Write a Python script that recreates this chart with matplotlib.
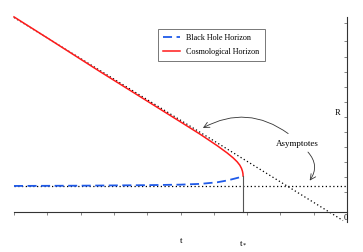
import matplotlib
matplotlib.use("Agg")
import matplotlib.pyplot as plt

# curves (t on the horizontal axis, R on the vertical)
cosmo_t = [-10.0, -9.01, -7.42, -5.92, -4.92, -4.4, -3.90, -3.6, -3.42,
           -3.30, -3.22, -3.17, -3.14, -3.125, -3.12]
cosmo_r = [7.50, 6.70, 5.40, 4.20, 3.40, 2.98, 2.55, 2.27, 2.08,
           1.93, 1.80, 1.68, 1.57, 1.47, 1.38]
bh_t = [-10.0, -8.0, -6.0, -5.0, -4.4, -3.9, -3.6, -3.35, -3.2, -3.15, -3.12]
bh_r = [1.00, 1.01, 1.03, 1.05, 1.08, 1.14, 1.21, 1.29, 1.34, 1.365, 1.38]

# asymptotes
diag_t = [-10.0, -0.12]
diag_r = [7.48, -0.33]
flat_t = [-10.0, 0.0]
flat_r = [1.0, 1.0]

t_star = -3.12
r_star = 1.38

x_ticks = [-10, -9, -8, -7, -6, -5, -4, -3, -2, -1, 0]
y_ticks = [0.77, 1.35, 1.92, 2.50, 3.08, 3.65, 4.23, 4.81, 5.38, 5.96, 6.58, 7.27]

plt.rcParams["font.family"] = ["Liberation Serif", "DejaVu Serif"]

fig = plt.figure(figsize=(3.63, 2.52), dpi=100)
ax = fig.add_axes([0, 0, 1, 1])
ax.set_xlim(-10.42, 0.48)
ax.set_ylim(-1.54, 8.15)

ax.plot(diag_t, diag_r, color="black", linestyle=(0, (1, 2)), linewidth=0.9)
ax.plot(flat_t, flat_r, color="black", linestyle=(0, (1, 2)), linewidth=0.9)
ax.plot(bh_t, bh_r, color="#1f5ae8", linestyle=(0, (5, 2.5)), linewidth=1.3,
        label="Black Hole Horizon")
ax.plot(cosmo_t, cosmo_r, color="#ff1a1a", linewidth=1.1,
        label="Cosmological Horizon")
ax.plot([t_star, t_star], [0, r_star], color="#555555", linewidth=0.8)

# axes: bottom at R=0, vertical axis on the right at t=0
for s in ["top", "left"]:
    ax.spines[s].set_visible(False)
ax.spines["bottom"].set_position(("data", 0))
ax.spines["bottom"].set_bounds(-10, 0)
ax.spines["right"].set_position(("data", 0))
ax.spines["right"].set_bounds(-0.38, 7.5)
for s in ["bottom", "right"]:
    ax.spines[s].set_color("#333333")
    ax.spines[s].set_linewidth(0.8)
ax.yaxis.tick_right()
ax.set_xticks(x_ticks)
ax.set_yticks(y_ticks)
ax.tick_params(axis="x", direction="out", length=2, width=0.5,
               colors="#555555", labelbottom=False)
ax.tick_params(axis="y", direction="in", length=2, width=0.5,
               colors="#555555", labelright=False)

ax.text(-4.98, -1.12, "t", fontsize=6.5, ha="center", va="center")
ax.text(t_star, -1.18, "t$_*$", fontsize=6.5, ha="center", va="center")
ax.text(-0.27, 3.8, "R", fontsize=6, ha="center", va="center")
ax.text(-0.05, -0.25, "0", fontsize=6, ha="center", va="center")

ax.text(-1.5, 2.6, "Asymptotes", fontsize=6.5, ha="center", va="center")
ax.annotate("", xy=(-4.4, 3.18), xytext=(-1.7, 2.95),
            arrowprops=dict(arrowstyle="->", color="#333333", lw=0.6,
                            connectionstyle="arc3,rad=0.33"))
ax.annotate("", xy=(-1.17, 1.12), xytext=(-1.23, 2.38),
            arrowprops=dict(arrowstyle="->", color="#333333", lw=0.6,
                            connectionstyle="arc3,rad=-0.45"))

leg = ax.legend(loc="upper left", bbox_to_anchor=(0.435, 0.885),
                fontsize=5.9, frameon=True, fancybox=False,
                handlelength=2.0, borderpad=0.65, labelspacing=0.7,
                handletextpad=0.8, borderaxespad=0)
leg.get_frame().set_edgecolor("#555555")
leg.get_frame().set_linewidth(0.7)

fig.savefig("out.png", dpi=100)
